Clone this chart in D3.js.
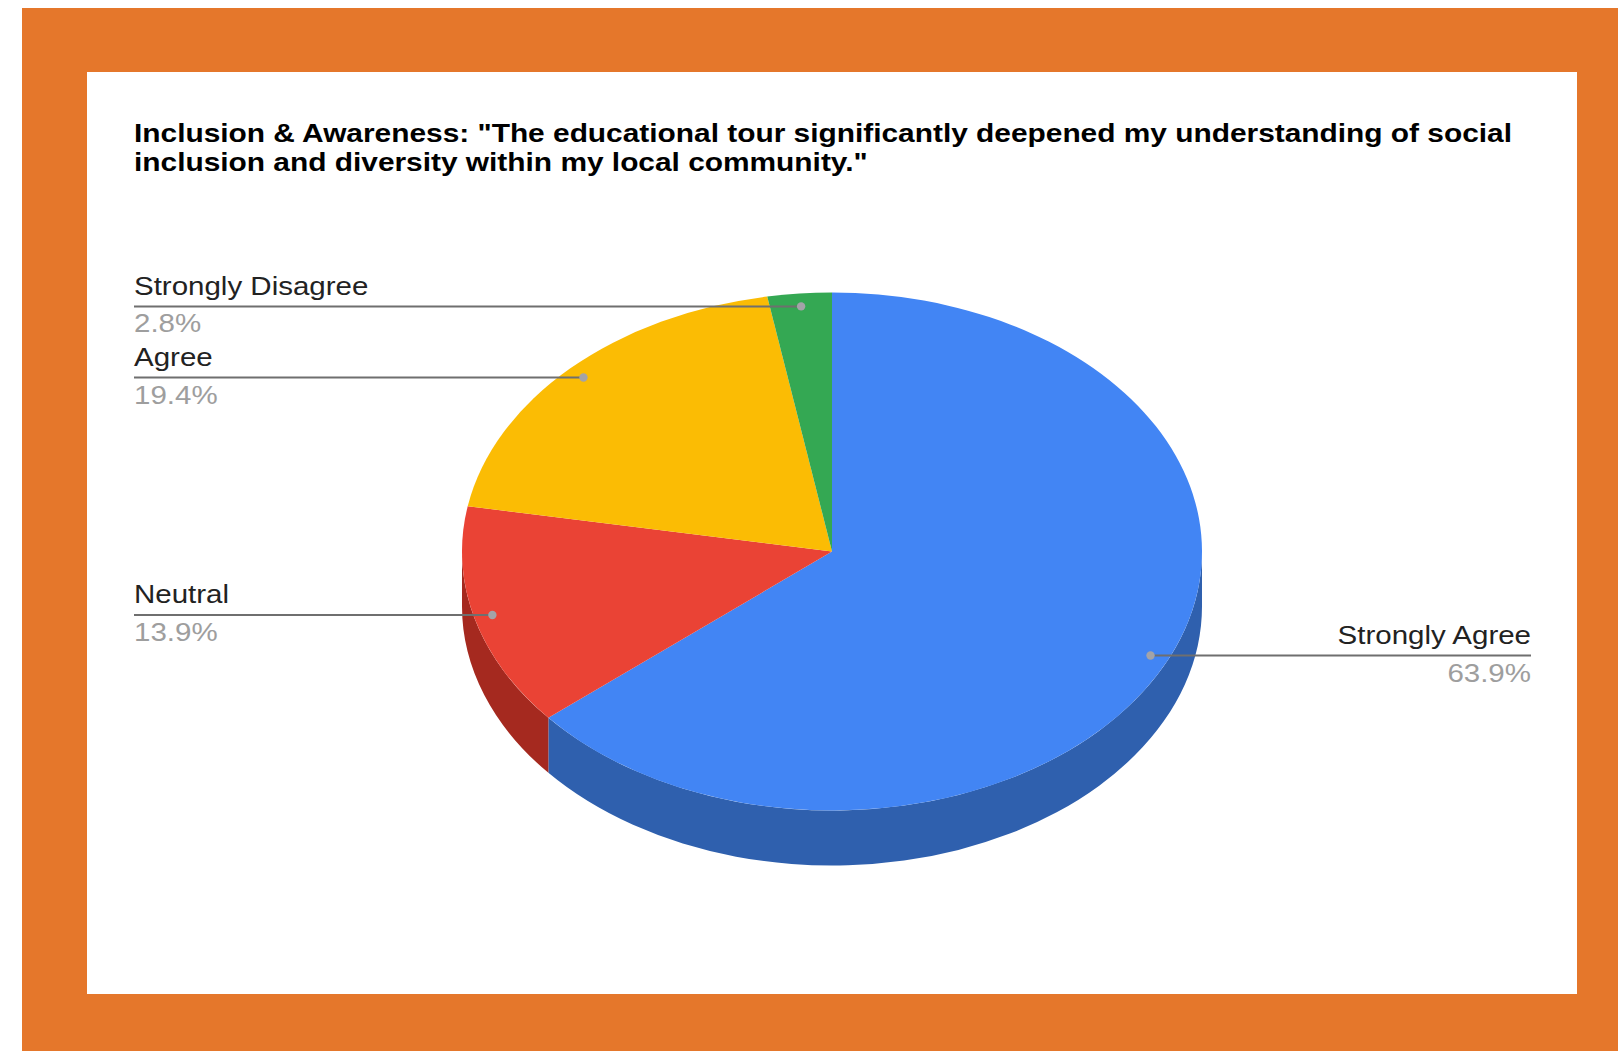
<!DOCTYPE html>
<html>
<head>
<meta charset="utf-8">
<script src="https://cdn.jsdelivr.net/npm/d3@7"></script>
<style>
  html, body { margin: 0; padding: 0; background: #ffffff; }
  svg { display: block; }
</style>
</head>
<body>
<script>
// ---- data ----
const categories = ["Strongly Agree", "Neutral", "Agree", "Strongly Disagree"];
const values = [63.9, 13.9, 19.4, 2.8];
const pctLabels = ["63.9%", "13.9%", "19.4%", "2.8%"];
const topColors = ["#4285f4", "#ea4335", "#fbbc04", "#34a853"];
const sideColors = ["#2f60ae", "#a5291f", "#b38600", "#24773b"];
const titleLines = [
  "Inclusion & Awareness: \"The educational tour significantly deepened my understanding of social",
  "inclusion and diversity within my local community.\""
];

// ---- layout ----
const W = 1618, H = 1051;
const cx = 832, cy = 551.5, rx = 370, ry = 259, depth = 55;
const sxTitle = 1.195, sx = 1.18; // horizontal stretch of the source image
const labelLeftX = 134, labelRightX = 1531;

const svg = d3.select("body").append("svg").attr("width", W).attr("height", H);

// frame
svg.append("rect").attr("x", 0).attr("y", 0).attr("width", W).attr("height", H).attr("fill", "#ffffff");
svg.append("rect").attr("x", 22).attr("y", 8).attr("width", W - 22).attr("height", H - 8).attr("fill", "#e5772b");
svg.append("rect").attr("x", 87).attr("y", 72).attr("width", 1577 - 87).attr("height", 994 - 72).attr("fill", "#ffffff");

// title
const tg = svg.append("g");
titleLines.forEach((t, i) => {
  tg.append("g").attr("transform", `translate(${labelLeftX},${142 + i * 28.5}) scale(${sxTitle},1)`)
    .append("text")
    .attr("font-family", "'Liberation Sans', Arial, sans-serif")
    .attr("font-weight", "bold").attr("font-size", 25).attr("fill", "#000")
    .text(t);
});

// pie geometry
const pie = d3.pie().sort(null).value(d => d)(values);
const color = d3.scaleOrdinal().domain(categories).range(topColors);
const sideColor = d3.scaleOrdinal().domain(categories).range(sideColors);

const pt = (a, dy = 0) => [cx + rx * Math.sin(a), cy - ry * Math.cos(a) + dy];

function topPath(a1, a2) {
  const p1 = pt(a1), p2 = pt(a2);
  const large = (a2 - a1) > Math.PI ? 1 : 0;
  return `M${cx},${cy}L${p1[0]},${p1[1]}A${rx},${ry} 0 ${large} 1 ${p2[0]},${p2[1]}Z`;
}
function sidePath(a1, a2) {
  const s = Math.max(a1, Math.PI / 2), e = Math.min(a2, 3 * Math.PI / 2);
  if (e <= s) return null;
  const p1 = pt(s), p2 = pt(e), q2 = pt(e, depth), q1 = pt(s, depth);
  return `M${p1[0]},${p1[1]}A${rx},${ry} 0 0 1 ${p2[0]},${p2[1]}L${q2[0]},${q2[1]}A${rx},${ry} 0 0 0 ${q1[0]},${q1[1]}Z`;
}

const sides = svg.append("g");
pie.forEach((d, i) => {
  const p = sidePath(d.startAngle, d.endAngle);
  if (p) sides.append("path").attr("d", p).attr("fill", sideColor(categories[i]));
});

const tops = svg.append("g");
pie.forEach((d, i) => {
  tops.append("path").attr("d", topPath(d.startAngle, d.endAngle)).attr("fill", color(categories[i]));
});

// leader lines, dots, labels
const lab = svg.append("g");
pie.forEach((d, i) => {
  const mid = (d.startAngle + d.endAngle) / 2;
  const dx = cx + 0.95 * rx * Math.sin(mid);
  const dy = cy - 0.95 * ry * Math.cos(mid);
  const right = Math.sin(mid) > 0;
  const lx = right ? labelRightX : labelLeftX;
  lab.append("line").attr("x1", dx).attr("y1", dy).attr("x2", lx).attr("y2", dy)
    .attr("stroke", "#6f6f6f").attr("stroke-width", 2);
  lab.append("circle").attr("cx", dx).attr("cy", dy).attr("r", 4.2).attr("fill", "#a3a3a8");
  const anchor = right ? "end" : "start";
  lab.append("g").attr("transform", `translate(${lx},${dy - 11.5}) scale(${sx},1)`)
    .append("text").attr("text-anchor", anchor)
    .attr("font-family", "'Liberation Sans', Arial, sans-serif")
    .attr("font-size", 25).attr("fill", "#222222").text(categories[i]);
  lab.append("g").attr("transform", `translate(${lx},${dy + 26}) scale(${sx},1)`)
    .append("text").attr("text-anchor", anchor)
    .attr("font-family", "'Liberation Sans', Arial, sans-serif")
    .attr("font-size", 25).attr("fill", "#9e9e9e").text(pctLabels[i]);
});
</script>
</body>
</html>
